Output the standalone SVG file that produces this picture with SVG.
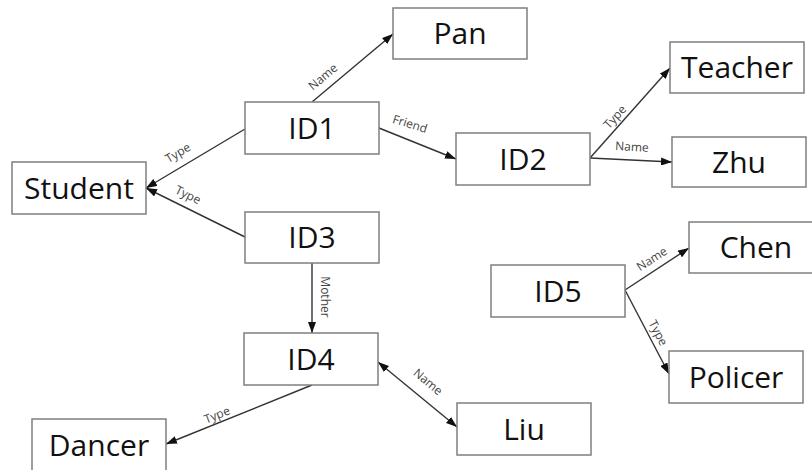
<svg xmlns="http://www.w3.org/2000/svg" width="812" height="470" viewBox="0 0 812 470">
  <style>
    .box { fill: #ffffff; stroke: #7f7f7f; stroke-width: 1.5; }
    .node-text { font-family: "Open Sans", "Liberation Sans", sans-serif; font-size: 30px; fill: #111111; text-anchor: middle; }
    .edge { fill: none; stroke: #333333; stroke-width: 1.4; marker-end: url(#arrow); }
    .edge-both { marker-start: url(#arrow-start); }
    .edge-label { font-family: "Open Sans", "Liberation Sans", sans-serif; font-size: 12px; fill: #444444; text-anchor: middle; }
  </style>
  <defs>
    <marker id="arrow" markerUnits="userSpaceOnUse" markerWidth="12" markerHeight="8" refX="11" refY="4" orient="auto">
      <path d="M0,0 L11,4 L0,8 z" fill="#111111"/>
    </marker>
    <marker id="arrow-start" markerUnits="userSpaceOnUse" markerWidth="12" markerHeight="8" refX="11" refY="4" orient="auto-start-reverse">
      <path d="M0,0 L11,4 L0,8 z" fill="#111111"/>
    </marker>
  </defs>
  <rect width="812" height="470" fill="#ffffff"/>

  <!-- connectors -->
  <g id="connectors">
    <line class="edge" x1="312" y1="102" x2="393" y2="34"/>
    <line class="edge" x1="379" y1="128" x2="456" y2="159"/>
    <line class="edge" x1="245" y1="129" x2="146" y2="188"/>
    <line class="edge" x1="245" y1="237" x2="146" y2="188"/>
    <line class="edge" x1="312" y1="263" x2="312" y2="333"/>
    <line class="edge edge-both" x1="378" y1="362" x2="457" y2="427"/>
    <line class="edge" x1="312" y1="385" x2="166" y2="444"/>
    <line class="edge" x1="590" y1="158" x2="670" y2="68"/>
    <line class="edge" x1="590" y1="158" x2="672" y2="162"/>
    <line class="edge" x1="625" y1="290" x2="689" y2="248"/>
    <line class="edge" x1="625" y1="290" x2="669" y2="374"/>

    <text class="edge-label" transform="translate(323,77) rotate(-40)" y="4">Name</text>
    <text class="edge-label" transform="translate(410,124) rotate(17)" y="4">Friend</text>
    <text class="edge-label" transform="translate(178,153) rotate(-31)" y="4">Type</text>
    <text class="edge-label" transform="translate(188,195) rotate(26)" y="4">Type</text>
    <text class="edge-label" transform="translate(325,297) rotate(90)" y="4">Mother</text>
    <text class="edge-label" transform="translate(428,382) rotate(40)" y="4">Name</text>
    <text class="edge-label" transform="translate(217,415) rotate(-22)" y="4">Type</text>
    <text class="edge-label" transform="translate(615,117) rotate(-48)" y="4">Type</text>
    <text class="edge-label" transform="translate(632,147) rotate(3)" y="4">Name</text>
    <text class="edge-label" transform="translate(652,259) rotate(-33)" y="4">Name</text>
    <text class="edge-label" transform="translate(658,333) rotate(62)" y="4">Type</text>
  </g>

  <!-- nodes -->
  <g id="node-pan">
    <rect class="box" x="393" y="8" width="134" height="51"/>
    <text class="node-text" x="460" y="44">Pan</text>
  </g>
  <g id="node-id1">
    <rect class="box" x="245" y="102" width="134" height="52"/>
    <text class="node-text" x="312" y="139">ID1</text>
  </g>
  <g id="node-id2">
    <rect class="box" x="456" y="133" width="134" height="52"/>
    <text class="node-text" x="523" y="170">ID2</text>
  </g>
  <g id="node-teacher">
    <rect class="box" x="670" y="42" width="134" height="51"/>
    <text class="node-text" x="737" y="78">Teacher</text>
  </g>
  <g id="node-zhu">
    <rect class="box" x="672" y="137" width="134" height="50"/>
    <text class="node-text" x="739" y="173">Zhu</text>
  </g>
  <g id="node-student">
    <rect class="box" x="12" y="162" width="134" height="52"/>
    <text class="node-text" x="79" y="199">Student</text>
  </g>
  <g id="node-id3">
    <rect class="box" x="245" y="212" width="134" height="51"/>
    <text class="node-text" x="312" y="248">ID3</text>
  </g>
  <g id="node-id4">
    <rect class="box" x="244" y="333" width="134" height="52"/>
    <text class="node-text" x="311" y="370">ID4</text>
  </g>
  <g id="node-dancer">
    <rect class="box" x="32" y="419" width="134" height="53"/>
    <text class="node-text" x="99" y="456">Dancer</text>
  </g>
  <g id="node-liu">
    <rect class="box" x="457" y="403" width="134" height="52"/>
    <text class="node-text" x="524" y="440">Liu</text>
  </g>
  <g id="node-id5">
    <rect class="box" x="491" y="265" width="134" height="52"/>
    <text class="node-text" x="558" y="302">ID5</text>
  </g>
  <g id="node-chen">
    <rect class="box" x="689" y="222" width="134" height="51"/>
    <text class="node-text" x="756" y="258">Chen</text>
  </g>
  <g id="node-policer">
    <rect class="box" x="669" y="351" width="134" height="52"/>
    <text class="node-text" x="736" y="388">Policer</text>
  </g>
</svg>
